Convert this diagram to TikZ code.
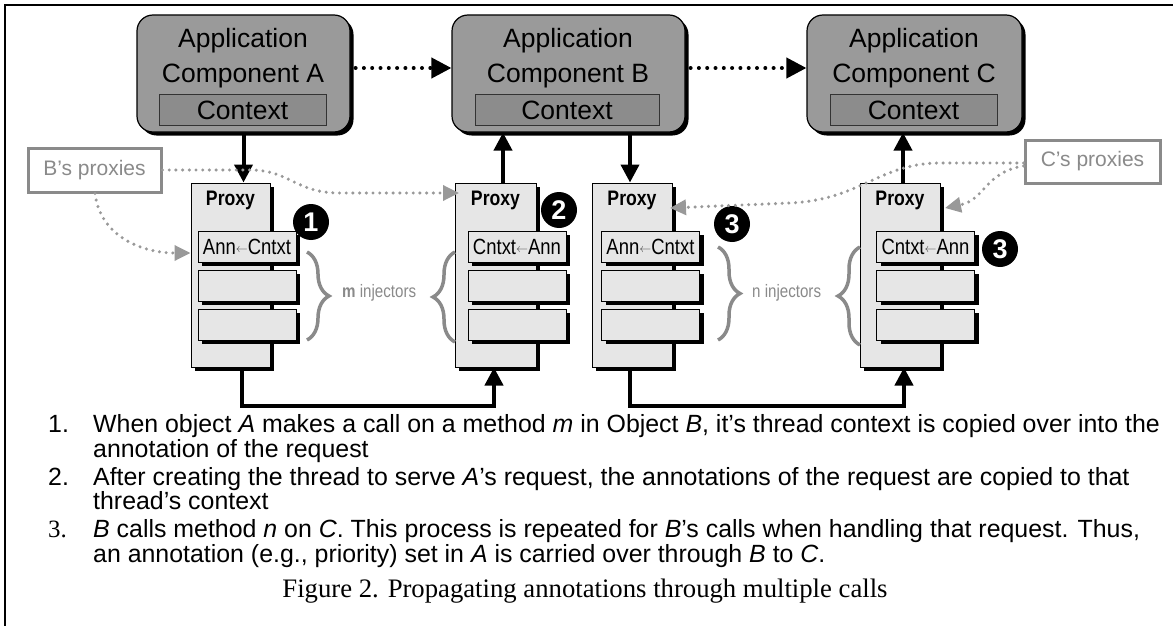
\documentclass[tikz,border=0pt]{standalone}
\usepackage{fontspec}
\setmainfont{Liberation Sans}
\newfontfamily\serifface{Liberation Serif}
\newfontfamily\narrowface[FakeStretch=0.84]{Liberation Sans}
\usetikzlibrary{shadows,arrows.meta,decorations.pathreplacing,calc}
\definecolor{appgray}{HTML}{9A9A9A}
\definecolor{ctxgray}{HTML}{8C8C8C}
\definecolor{proxgray}{HTML}{E6E6E6}
\definecolor{labgray}{HTML}{8A8A8A}
\definecolor{dotgray}{HTML}{999999}
\begin{document}
\begin{tikzpicture}[x=1pt,y=-1pt,
  appbox/.style={draw=black, line width=1.2pt, fill=appgray, rounded corners=16pt, inner sep=0pt,
    minimum height=117pt, drop shadow={shadow xshift=3.5pt, shadow yshift=-3.5pt, fill=black, opacity=1}},
  ctxbox/.style={draw=black!80, line width=0.8pt, fill=ctxgray, inner sep=0pt, minimum height=31pt},
  apptext/.style={font=\fontsize{26.5}{30}\selectfont, inner sep=0pt, anchor=base},
  proxybox/.style={draw=black, line width=1pt, fill=proxgray, inner sep=0pt,
    drop shadow={shadow xshift=4pt, shadow yshift=-4pt, fill=black, opacity=1}},
  injbox/.style={proxybox, minimum width=98pt, minimum height=31pt, font=\narrowface\fontsize{22}{24}\selectfont},
  proxytext/.style={font=\narrowface\bfseries\fontsize{21}{24}\selectfont, inner sep=0pt, anchor=base},
  badge/.style={circle, fill=black, text=white, inner sep=0pt, minimum size=36pt, font=\bfseries\fontsize{27}{27}\selectfont},
  labbox/.style={draw=labgray, line width=3pt, text=labgray, inner sep=0pt, font=\fontsize{21}{24}\selectfont},
  bracestyle/.style={draw=labgray, line width=3.5pt, decorate, decoration={brace, amplitude=22pt, aspect=0.5}},
  injlabel/.style={text=labgray, inner sep=0pt, anchor=west, font=\narrowface\fontsize{18}{20}\selectfont},
  callarrow/.style={line width=4pt, -{Triangle[length=18pt,width=18pt]}},
  dotcall/.style={line width=4pt, line cap=round, dash pattern=on 0pt off 8.3pt, -{Triangle[length=20pt,width=20pt]}},
  graydot/.style={draw=dotgray, line width=3.4pt, line cap=round, dash pattern=on 0pt off 6.7pt, -{Triangle[length=16pt,width=15pt]}},
  bodytext/.style={inner sep=0pt, anchor=base west, font=\fontsize{24.9}{28}\selectfont}
]
\useasboundingbox (0,0) rectangle (1173,626);
\fill[white] (0,0) rectangle (1173,626);
% frame
\draw[line width=2.5pt] (5,626) -- (5,5) -- (1173,5);

% application components
\node[appbox, minimum width=213pt] (A) at (243.5,73.5) {};
\node[appbox, minimum width=233pt] (B) at (568.5,73.5) {};
\node[appbox, minimum width=215pt] (C) at (914.5,73.5) {};
\node[ctxbox, minimum width=167pt] (Actx) at (242.5,109.5) {};
\node[ctxbox, minimum width=184pt] (Bctx) at (567,109.5) {};
\node[ctxbox, minimum width=167pt] (Cctx) at (913.5,109.5) {};
\node[apptext] (Aapp) at (243,48) {Application};
\node[apptext] (Acomp) at (243,83) {Component A};
\node[apptext] (Actxt) at (242.5,119) {Context};
\node[apptext] (Bapp) at (568,48) {Application};
\node[apptext] (Bcomp) at (568,83) {Component B};
\node[apptext] (Bctxt) at (567,119) {Context};
\node[apptext] (Capp) at (914,48) {Application};
\node[apptext] (Ccomp) at (914,83) {Component C};
\node[apptext] (Cctxt) at (913.5,119) {Context};

% dotted calls between components
\draw[dotcall, shorten <=5pt] (A.east |- 0,68) -- (B.west |- 0,68);
\draw[dotcall, shorten <=5pt] (B.east |- 0,68) -- (C.west |- 0,68);

% proxies
\node[proxybox, minimum width=79pt, minimum height=184pt] (P1) at (230.5,275) {};
\node[proxybox, minimum width=81pt, minimum height=184pt] (P2) at (495.5,275) {};
\node[proxybox, minimum width=80pt, minimum height=184pt] (P3) at (632,275) {};
\node[proxybox, minimum width=80pt, minimum height=184pt] (P4) at (900,275) {};
\node[proxytext] (P1t) at (230.5,205) {Proxy};
\node[proxytext] (P2t) at (495.5,205) {Proxy};
\node[proxytext] (P3t) at (632,205) {Proxy};
\node[proxytext] (P4t) at (900,205) {Proxy};

\newcommand{\lar}{\raisebox{1.5pt}{\color{black!70}\fontsize{12}{12}\selectfont$\leftarrow$}}
\node[injbox] (I1a) at (247,246.5) {Ann\lar Cntxt};
\node[injbox] (I1b) at (247,285.5) {};
\node[injbox] (I1c) at (247,324.5) {};
\node[injbox] (I2a) at (517,246.5) {Cntxt\lar Ann};
\node[injbox] (I2b) at (517,285.5) {};
\node[injbox] (I2c) at (517,324.5) {};
\node[injbox] (I3a) at (650.5,246.5) {Ann\lar Cntxt};
\node[injbox] (I3b) at (650.5,285.5) {};
\node[injbox] (I3c) at (650.5,324.5) {};
\node[injbox] (I4a) at (925.5,246.5) {Cntxt\lar Ann};
\node[injbox] (I4b) at (925.5,285.5) {};
\node[injbox] (I4c) at (925.5,324.5) {};

% badges
\node[badge] (b1) at (311,222) {1};
\node[badge] (b2) at (559,210) {2};
\node[badge] (b3) at (732,224) {3};
\node[badge] (b4) at (1000,249) {3};

% braces and labels
\draw[bracestyle] (307,252) -- (307,340);
\draw[bracestyle] (455,342) -- (455,252);
\draw[bracestyle] (718,247) -- (718,340);
\draw[bracestyle] (860,345) -- (860,247);
\node[injlabel] (mlab) at (342,293) {\bfseries m\mdseries\ injectors};
\node[injlabel] (nlab) at (752,293) {n injectors};

% calls between components and proxies
\draw[callarrow] (A.south) -- (A.south |- P1.north);
\draw[callarrow] (P2.north -| 503,0) -- (B.south -| 503,0);
\draw[callarrow] (B.south -| 630,0) -- (P3.north -| 630,0);
\draw[callarrow] (P4.north -| 903,0) -- (C.south -| 903,0);
\draw[callarrow] (P1.south -| 242,0) -- (242,406) -| (P2.south -| 494,0);
\draw[callarrow] (P3.south -| 630,0) -- (630,406) -| (P4.south -| 904,0);

% proxy labels
\node[labbox, minimum width=133pt, minimum height=44pt] (Bp) at (94.5,170) {B’s proxies};
\node[labbox, minimum width=135pt, minimum height=43pt] (Cp) at (1092.5,161.5) {C’s proxies};

% gray dotted links
\draw[graydot] (Bp.east) -- (250,170) .. controls (290,170) and (295,193) .. (340,193) -- (459,193);
\draw[graydot] (Bp.south -| 95,0) .. controls (100,235) and (140,253) .. (P1.west |- 0,253);
\draw[graydot] (Cp.west |- 0,163) -- (940,163) .. controls (880,163) and (860,200) .. (790,203) -- (670,208);
\draw[graydot] (Cp.west |- 0,166) .. controls (985,172) and (985,200) .. (945,208);

% text
\node[bodytext] (n1) at (48,432) {1.};
\node[bodytext] (t1a) at (93,432) {When object \textit{A} makes a call on a method \textit{m} in Object \textit{B}, it’s thread context is copied over into the};
\node[bodytext] (t1b) at (93,457) {annotation of the request};
\node[bodytext] (n2) at (48,485) {2.};
\node[bodytext] (t2a) at (93,485) {After creating the thread to serve \textit{A}’s request, the annotations of the request are copied to that};
\node[bodytext] (t2b) at (93,509) {thread’s context};
\node[bodytext] (n3) at (48,537) {\serifface 3.};
\node[bodytext] (t3a) at (93,537) {\textit{B} calls method \textit{n} on \textit{C}. This process is repeated for \textit{B}’s calls when handling that request. Thus,};
\node[bodytext] (t3b) at (93,562) {an annotation (e.g., priority) set in \textit{A} is carried over through \textit{B} to \textit{C}.};
\node[inner sep=0pt, anchor=base, font=\serifface\fontsize{26.7}{30}\selectfont] (cap) at (585,597) {Figure 2. Propagating annotations through multiple calls};
\end{tikzpicture}
\end{document}
